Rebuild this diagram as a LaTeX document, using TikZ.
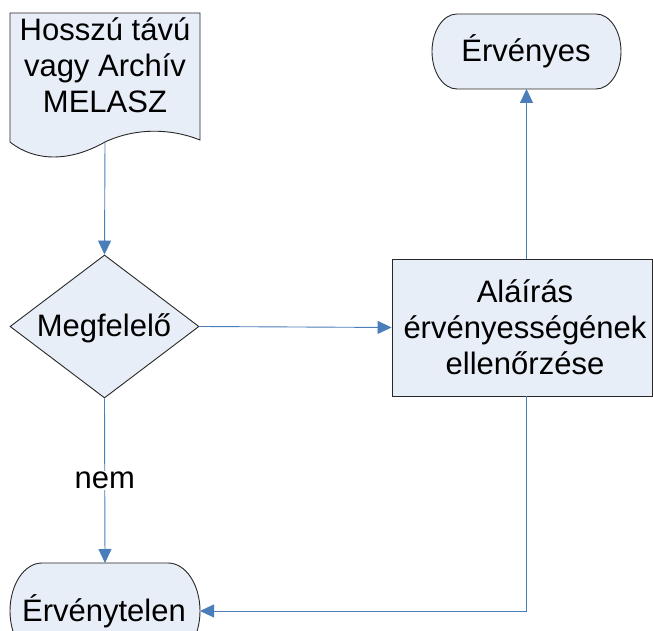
\documentclass[tikz,border=0pt]{standalone}
\usepackage{fontspec}
\setmainfont{Liberation Sans}
\usetikzlibrary{arrows.meta,shapes.geometric}
\definecolor{shapefill}{RGB}{232,238,247}
\definecolor{connblue}{RGB}{74,126,187}
\definecolor{edge}{RGB}{40,40,40}
\tikzset{
  shp/.style={draw=edge, line width=0.9pt, fill=shapefill},
  lbl/.style={font=\fontsize{31}{36}\selectfont, inner sep=0pt},
  conn/.style={draw=connblue, line width=0.9pt, -{Triangle[length=14pt,width=13pt]}},
  ghost/.style={inner sep=0pt, outer sep=0pt}
}
\begin{document}
\begin{tikzpicture}[x=1pt,y=1pt]
\clip (0,0) rectangle (653,631);
\fill[white] (0,0) rectangle (653,631);
% document shape
\draw[shp] (10,618) -- (200,618) -- (200,491)
  .. controls (170,503) and (135,503) .. (105,489)
  .. controls (70,469) and (35,469) .. (10,489) -- cycle;
\coordinate (docb) at (105,489);
\node[lbl, align=center] (doct) at (105,566) {Hosszú távú\\vagy Archív\\MELASZ};
% diamond
\node[shp, diamond, minimum width=189pt, minimum height=143pt, inner sep=0pt] (dia) at (104.5,304.5) {};
\begin{scope}
  \clip (0,200) rectangle (170,400);
  \node[lbl, anchor=base] (diat) at (104,294) {Megfelelő};
\end{scope}
% process box
\node[shp, rectangle, minimum width=260pt, minimum height=137pt, inner sep=0pt] (box) at (522,303.5) {};
\node[lbl, align=center] (boxt) at (525,304) {Aláírás\\érvényességének\\ellenőrzése};
% terminal Érvényes
\draw[shp] (457,617) -- (596,617) arc[start angle=90, end angle=-90, x radius=25, y radius=37.5]
  -- (457,542) arc[start angle=270, end angle=90, x radius=25, y radius=37.5] -- cycle;
\node[ghost, minimum width=189pt, minimum height=75pt] (erv) at (526.5,579.5) {};
\node[lbl, anchor=base] (ervt) at (526,569) {Érvényes};
% terminal Érvénytelen
\draw[shp] (42,68) -- (168,68) arc[start angle=90, end angle=-90, x radius=32, y radius=48]
  -- (42,-28) arc[start angle=270, end angle=90, x radius=32, y radius=48] -- cycle;
\node[ghost, minimum width=190pt, minimum height=96pt] (inv) at (105,20) {};
\node[lbl, anchor=base] (invt) at (104,9) {Érvénytelen};
% connectors
\draw[conn] (docb) -- (dia.north);
\draw[conn] (dia.east) -- (box.west);
\draw[conn] (box.north -| erv.south) -- (erv.south);
\draw[conn] (box.south -| erv.south) |- (inv.east);
\draw[conn] (dia.south) -- node[lbl, fill=white, inner sep=1pt] (nem) {nem} (inv.north);
\end{tikzpicture}
\end{document}
